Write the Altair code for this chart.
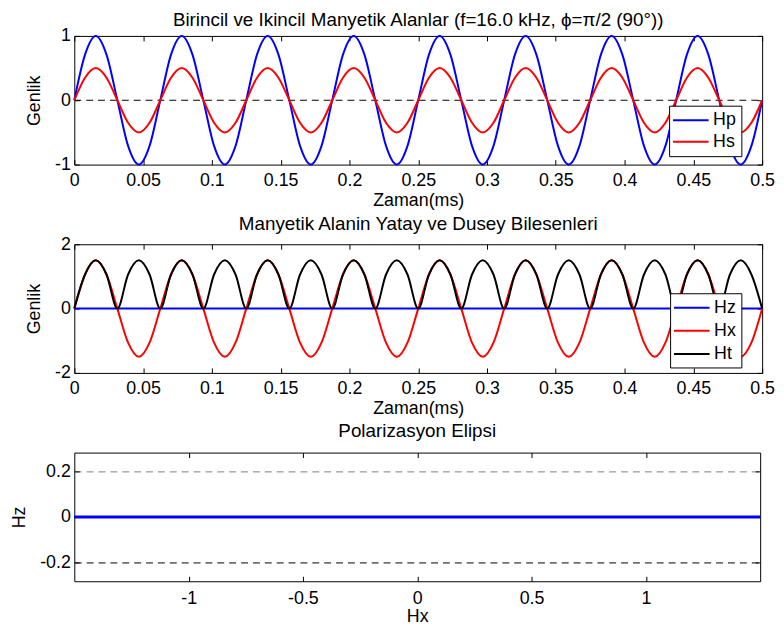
import altair as alt
import pandas as pd

# ---------------- data ----------------
t_ms = [0.0, 0.0078, 0.0156, 0.0234, 0.0313, 0.0391, 0.0469, 0.0547,
        0.0625, 0.0703, 0.0781, 0.0859, 0.0938, 0.1016, 0.1094, 0.1172,
        0.125, 0.1328, 0.1406, 0.1484, 0.1563, 0.1641, 0.1719, 0.1797,
        0.1875, 0.1953, 0.2031, 0.2109, 0.2188, 0.2266, 0.2344, 0.2422,
        0.25, 0.2578, 0.2656, 0.2734, 0.2813, 0.2891, 0.2969, 0.3047,
        0.3125, 0.3203, 0.3281, 0.3359, 0.3438, 0.3516, 0.3594, 0.3672,
        0.375, 0.3828, 0.3906, 0.3984, 0.4063, 0.4141, 0.4219, 0.4297,
        0.4375, 0.4453, 0.4531, 0.4609, 0.4688, 0.4766, 0.4844, 0.4922, 0.5]

hp = [0, 0.71, 1, 0.71, 0, -0.71, -1, -0.71,
      0, 0.71, 1, 0.71, 0, -0.71, -1, -0.71,
      0, 0.71, 1, 0.71, 0, -0.71, -1, -0.71,
      0, 0.71, 1, 0.71, 0, -0.71, -1, -0.71,
      0, 0.71, 1, 0.71, 0, -0.71, -1, -0.71,
      0, 0.71, 1, 0.71, 0, -0.71, -1, -0.71,
      0, 0.71, 1, 0.71, 0, -0.71, -1, -0.71,
      0, 0.71, 1, 0.71, 0, -0.71, -1, -0.71, 0]

hs = [0, 0.35, 0.5, 0.35, 0, -0.35, -0.5, -0.35,
      0, 0.35, 0.5, 0.35, 0, -0.35, -0.5, -0.35,
      0, 0.35, 0.5, 0.35, 0, -0.35, -0.5, -0.35,
      0, 0.35, 0.5, 0.35, 0, -0.35, -0.5, -0.35,
      0, 0.35, 0.5, 0.35, 0, -0.35, -0.5, -0.35,
      0, 0.35, 0.5, 0.35, 0, -0.35, -0.5, -0.35,
      0, 0.35, 0.5, 0.35, 0, -0.35, -0.5, -0.35,
      0, 0.35, 0.5, 0.35, 0, -0.35, -0.5, -0.35, 0]

hx = [0, 1.06, 1.5, 1.06, 0, -1.06, -1.5, -1.06,
      0, 1.06, 1.5, 1.06, 0, -1.06, -1.5, -1.06,
      0, 1.06, 1.5, 1.06, 0, -1.06, -1.5, -1.06,
      0, 1.06, 1.5, 1.06, 0, -1.06, -1.5, -1.06,
      0, 1.06, 1.5, 1.06, 0, -1.06, -1.5, -1.06,
      0, 1.06, 1.5, 1.06, 0, -1.06, -1.5, -1.06,
      0, 1.06, 1.5, 1.06, 0, -1.06, -1.5, -1.06,
      0, 1.06, 1.5, 1.06, 0, -1.06, -1.5, -1.06, 0]

ht = [0, 1.06, 1.5, 1.06, 0, 1.06, 1.5, 1.06,
      0, 1.06, 1.5, 1.06, 0, 1.06, 1.5, 1.06,
      0, 1.06, 1.5, 1.06, 0, 1.06, 1.5, 1.06,
      0, 1.06, 1.5, 1.06, 0, 1.06, 1.5, 1.06,
      0, 1.06, 1.5, 1.06, 0, 1.06, 1.5, 1.06,
      0, 1.06, 1.5, 1.06, 0, 1.06, 1.5, 1.06,
      0, 1.06, 1.5, 1.06, 0, 1.06, 1.5, 1.06,
      0, 1.06, 1.5, 1.06, 0, 1.06, 1.5, 1.06, 0]

zero_t = [0.0, 0.5]
zero_v = [0.0, 0.0]
hz_t = [0.0, 0.5]
hz = [0.0, 0.0]
ellipse_hx = [-1.5, 1.5]
ellipse_hz = [0.0, 0.0]

series1 = ["Hp", "Hs"]
series2 = ["Hz", "Hx", "Ht"]
time_ticks = [0, 0.05, 0.1, 0.15, 0.2, 0.25, 0.3, 0.35, 0.4, 0.45, 0.5]
y1_ticks = [-1, 0, 1]
y2_ticks = [-2, 0, 2]
x3_ticks = [-1, -0.5, 0, 0.5, 1]
y3_ticks = [-0.2, 0, 0.2]

title1 = "Birincil ve Ikincil Manyetik Alanlar (f=16.0 kHz, \u03d5=\u03c0/2 (90\u00b0))"
title2 = "Manyetik Alanin Yatay ve Dusey Bilesenleri"
title3 = "Polarizasyon Elipsi"

# ---------------- style ----------------
FONT = "Liberation Sans"
FS = 18
TFS = 19
TICK = 5
BLUE, RED, BLACK = "#0000ff", "#ff0000", "#000000"


def ax_bottom(title, vals, lp=7, tp=2):
    return alt.Axis(orient="bottom", title=title, values=vals,
                    labelExpr="'' + datum.value", offset=-TICK, tickSize=TICK,
                    domain=False, grid=False, labelFlush=False, labelOverlap=False,
                    labelPadding=lp, titlePadding=tp)


def ax_top(vals):
    return alt.Axis(orient="top", title=None, values=vals, labels=False,
                    offset=-TICK, tickSize=TICK, domain=False, grid=False)


def ax_left(title, vals, lp=4, tp=11, **kw):
    return alt.Axis(orient="left", title=title, values=vals,
                    labelExpr="'' + datum.value", offset=-TICK, tickSize=TICK,
                    domain=False, labelFlush=False, labelOverlap=False,
                    labelPadding=lp, titlePadding=tp, **kw)


def ax_right(vals):
    return alt.Axis(orient="right", title=None, values=vals, labels=False,
                    offset=-TICK, tickSize=TICK, domain=False, grid=False)


def legend(x, y, row_pad):
    return alt.Legend(title=None, orient="none", legendX=x, legendY=y,
                      direction="vertical", columns=1,
                      strokeColor="black", fillColor="white", padding=4.7,
                      symbolType="M-2,0H2", symbolSize=324, symbolStrokeWidth=2,
                      symbolOffset=7.2, labelOffset=12.5,
                      labelFont=FONT, labelFontSize=FS, labelColor="black",
                      rowPadding=row_pad, cornerRadius=0)


# ---------------- panel 1 ----------------
n = len(t_ms)
df1 = pd.DataFrame({"t": t_ms + t_ms, "v": hp + hs,
                    "s": [series1[0]] * n + [series1[1]] * n})
df0 = pd.DataFrame({"t": zero_t, "v": zero_v})
xs1 = alt.Scale(domain=[0, 0.5], nice=False, zero=False)
ys1 = alt.Scale(domain=[-1, 1], nice=False)
col1 = alt.Scale(domain=series1, range=[BLUE, RED])

zero1 = alt.Chart(df0).mark_line(color=BLACK, strokeWidth=1, strokeDash=[7, 5]).encode(
    x=alt.X("t:Q", scale=xs1, axis=ax_top(time_ticks)),
    y=alt.Y("v:Q", scale=ys1, axis=ax_right(y1_ticks)),
)
lines1 = alt.Chart(df1).mark_line(strokeWidth=2, interpolate="monotone").encode(
    x=alt.X("t:Q", scale=xs1, axis=ax_bottom("Zaman(ms)", time_ticks)),
    y=alt.Y("v:Q", scale=ys1, axis=ax_left("Genlik", y1_ticks, grid=False)),
    color=alt.Color("s:N", scale=col1, legend=legend(601, 70.5, 2.7)),
)
p1 = alt.layer(zero1, lines1).resolve_axis(x="independent", y="independent").properties(
    width=695, height=130,
    title=alt.TitleParams(text=title1, offset=-3),
)

# ---------------- panel 2 ----------------
df2z = pd.DataFrame({"t": hz_t, "v": hz, "s": [series2[0]] * len(hz_t)})
df2 = pd.DataFrame({"t": t_ms + t_ms, "v": hx + ht,
                    "s": [series2[1]] * n + [series2[2]] * n})
ys2 = alt.Scale(domain=[-2, 2], nice=False)
col2 = alt.Scale(domain=series2, range=[BLUE, RED, BLACK])
leg2 = legend(602, 49.5, 4.3)

hz_line = alt.Chart(df2z).mark_line(strokeWidth=2).encode(
    x=alt.X("t:Q", scale=xs1, axis=ax_top(time_ticks)),
    y=alt.Y("v:Q", scale=ys2, axis=ax_right(y2_ticks)),
    color=alt.Color("s:N", scale=col2, legend=leg2),
)
lines2 = alt.Chart(df2).mark_line(strokeWidth=2, interpolate="monotone").encode(
    x=alt.X("t:Q", scale=xs1, axis=ax_bottom("Zaman(ms)", time_ticks)),
    y=alt.Y("v:Q", scale=ys2, axis=ax_left("Genlik", y2_ticks, grid=False)),
    color=alt.Color("s:N", scale=col2, legend=leg2),
)
p2 = alt.layer(hz_line, lines2).resolve_axis(x="independent", y="independent").properties(
    width=695, height=130,
    title=alt.TitleParams(text=title2, offset=1.5),
)

# ---------------- panel 3 ----------------
df3 = pd.DataFrame({"hx": ellipse_hx, "hz": ellipse_hz})
xs3 = alt.Scale(domain=[-1.5, 1.5], nice=False, zero=False)
ys3 = alt.Scale(domain=[-0.2815, 0.2815], nice=False)
grid_color = {"condition": {"test": "datum.value > 0", "value": "#808080"}, "value": "black"}

ell = alt.Chart(df3).mark_line(color=BLUE, strokeWidth=3).encode(
    x=alt.X("hx:Q", scale=xs3, axis=ax_bottom("Hx", x3_ticks, lp=8, tp=1)),
    y=alt.Y("hz:Q", scale=ys3, axis=ax_left("Hz", y3_ticks, grid=True, gridDash=[7, 5],
                                             gridColor=grid_color, gridWidth=1, gridOpacity=1)),
)
ell_ticks = alt.Chart(df3).mark_line(opacity=0).encode(
    x=alt.X("hx:Q", scale=xs3, axis=ax_top(x3_ticks)),
    y=alt.Y("hz:Q", scale=ys3, axis=ax_right(y3_ticks)),
)
p3 = alt.layer(ell, ell_ticks).resolve_axis(x="independent", y="independent").properties(
    width=693, height=130,
    title=alt.TitleParams(text=title3, offset=11.3),
)

chart = (
    alt.vconcat(p1, p2, p3, spacing=80.5, bounds="flush")
    .resolve_scale(color="independent")
    .properties(padding={"left": 2, "top": -1, "right": 0, "bottom": -4.5}, background="white")
    .configure(font=FONT)
    .configure_view(stroke=BLACK, strokeWidth=1)
    .configure_axis(labelFont=FONT, labelFontSize=FS, titleFont=FONT, titleFontSize=FS,
                    titleFontWeight="normal", labelColor=BLACK, titleColor=BLACK,
                    tickColor=BLACK, tickWidth=1)
    .configure_title(font=FONT, fontSize=TFS, fontWeight="normal", color=BLACK,
                     anchor="middle", baseline="alphabetic")
)

chart.save("out.html", embed_options={"renderer": "svg", "actions": False})
